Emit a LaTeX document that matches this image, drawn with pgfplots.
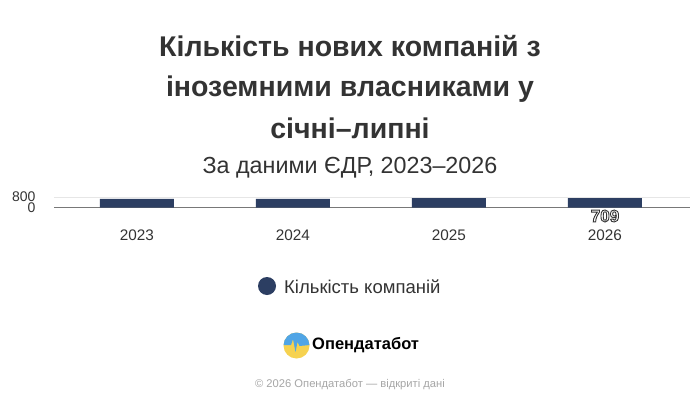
\documentclass[border=0pt]{standalone}
\usepackage{pgfplots}
\pgfplotsset{compat=1.18}
\usepackage{fontspec}
\setmainfont{Liberation Sans}
\definecolor{barblue}{RGB}{44,62,98}
\definecolor{txt}{RGB}{51,51,51}
\definecolor{gridc}{RGB}{230,230,230}
\definecolor{axisc}{RGB}{120,120,120}
\definecolor{logoblue}{RGB}{80,165,230}
\definecolor{logoyellow}{RGB}{246,210,80}
% outlined text: fill with current colour, stroke dark
\newcommand\outlined[1]{\special{pdf:literal direct 2 Tr 0.9 w 0.2 G}#1\special{pdf:literal direct 0 Tr}}
\begin{document}
\begin{tikzpicture}[x=1pt,y=1pt]
\path[use as bounding box, fill=white] (0,0) rectangle (700,408);

% title block
\node[text=txt, font=\fontsize{28.5}{32}\selectfont\bfseries] at (350,362) {Кількість нових компаній з};
\node[text=txt, font=\fontsize{28.5}{32}\selectfont\bfseries] at (350,319) {іноземними власниками у};
\node[text=txt, font=\fontsize{28.5}{32}\selectfont\bfseries] at (350,280) {січні–липні};
\node[text=txt, font=\fontsize{23.3}{27}\selectfont] at (350,240) {За даними ЄДР, 2023–2026};

\begin{axis}[
    at={(54pt,200.5pt)}, anchor=south west,
    width=636pt, height=10.5pt, scale only axis,
    xmin=-0.532, xmax=3.545,
    ymin=0, ymax=800,
    axis x line*=bottom, axis y line*=left,
    y axis line style={draw=none},
    x axis line style={draw=axisc, line width=1pt},
    xtick={0,1,2,3},
    xticklabels={2023,2024,2025,2026},
    ytick={0,800},
    major tick length=0pt,
    ymajorgrids, grid style={draw=gridc, line width=0.8pt},
    /pgf/number format/assume math mode=true,
    ticklabel style={text=txt, font=\fontsize{14}{16}\selectfont},
    xticklabel style={yshift=-19pt, font=\fontsize{15.3}{18}\selectfont},
    yticklabel style={anchor=east, xshift=-15pt},
    clip=false,
]
\addplot[ybar, bar width=74pt, fill=barblue, draw=none] coordinates {
    (0,660) (1,655) (2,720) (3,709)
};
\node[text=white, font=\fontsize{17}{19}\selectfont\bfseries] at (axis cs:3,0) [yshift=-8.5pt] {\outlined{709}};
\end{axis}

% legend
\fill[barblue] (267,122) circle (9);
\node[anchor=west, text=txt, font=\fontsize{18.5}{21}\selectfont, inner sep=0] at (284,121) {Кількість компаній};

% logo
\begin{scope}
\clip (296.5,62.5) circle (13);
\fill[logoyellow] (283,49) rectangle (310,76);
\fill[logoblue] (283,63) -- (291,63) -- (293,69) -- (295.5,56) -- (297.5,66) -- (299.5,62) -- (310,63) -- (310,76) -- (283,76) -- cycle;
\end{scope}
\node[anchor=west, font=\fontsize{16.5}{19}\selectfont\bfseries, inner sep=0] at (312,63) {Опендатабот};

% footer
\node[text=black!35, font=\fontsize{11.2}{13}\selectfont] at (350,23) {© 2026 Опендатабот — відкриті дані};
\end{tikzpicture}
\end{document}
